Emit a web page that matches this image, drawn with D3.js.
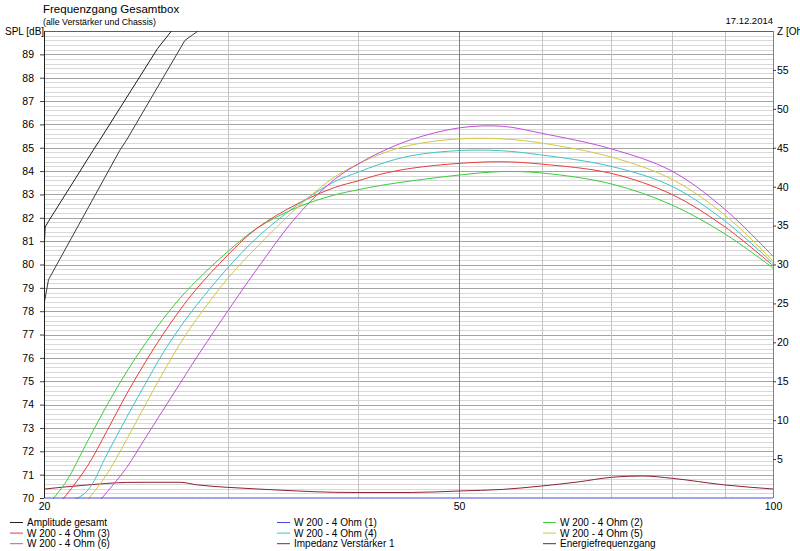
<!DOCTYPE html>
<html>
<head>
<meta charset="utf-8">
<script src="https://cdn.jsdelivr.net/npm/d3@7"></script>
<style>
  body { margin: 0; background: #fff; }
  svg { display: block; font-family: "Liberation Sans", Arial, sans-serif; }
</style>
</head>
<body>
<div id="chart"></div>
<script>
// frequency grid (Hz) shared by the six driver curves
var freq = [20, 21, 22, 23, 24, 25, 26, 27, 28, 30, 32, 35, 38, 40, 42, 45, 50, 55, 60, 70, 80, 90, 100];

// SPL in dB for each driver
var w200_1 = [70, 70, 70, 70, 70, 70, 70, 70, 70, 70, 70, 70, 70, 70, 70, 70, 70, 70, 70, 70, 70, 70, 70];
var w200_2 = [69.5, 70.7, 72.4, 74.0, 75.4, 76.6, 77.65, 78.55, 79.3, 80.55, 81.55, 82.45, 82.98, 83.2, 83.38, 83.58, 83.83, 83.98, 83.92, 83.45, 82.55, 81.3, 79.85];
var w200_3 = [69.0, 70.12, 71.35, 72.9, 74.45, 75.8, 77.0, 78.05, 78.95, 80.4, 81.55, 82.6, 83.3, 83.58, 83.86, 84.12, 84.33, 84.4, 84.3, 83.9, 83.0, 81.6, 79.95];
var w200_4 = [68.7, 69.7, 70.3, 71.9, 73.45, 74.87, 76.2, 77.3, 78.25, 79.85, 81.15, 82.55, 83.55, 83.95, 84.3, 84.66, 84.88, 84.87, 84.69, 84.2, 83.35, 81.85, 80.05];
var w200_5 = [68.2, 69.0, 69.9, 71.05, 72.5, 73.97, 75.35, 76.6, 77.65, 79.4, 80.75, 82.45, 83.75, 84.3, 84.72, 85.12, 85.38, 85.38, 85.2, 84.6, 83.65, 82.1, 80.15];
var w200_6 = [67.8, 68.5, 69.3, 70.27, 71.3, 72.55, 73.75, 74.9, 76.0, 78.0, 79.8, 82.1, 83.65, 84.3, 84.8, 85.35, 85.85, 85.92, 85.62, 84.95, 84.0, 82.35, 80.35];

// summed curves (go off the top of the chart)
var ampFreq = [20, 20.05, 20.2, 22.3, 22.6, 25.7, 26.5, 28];
var ampVals = [80.5, 81.6, 81.85, 84.9, 85.3, 89.25, 90.0, 91.2];
var energyFreq = [20, 20.2, 23.65, 24.0, 27.3, 28.1, 30];
var energyVals = [78.3, 79.35, 84.9, 85.33, 89.6, 90.0, 91.0];

// amplifier impedance (Ohm, right axis)
var zFreq = [20, 22, 24, 25, 27, 28, 30, 32, 35, 38, 40, 45, 50, 55, 60, 65, 70, 75, 80, 90, 100];
var zVals = [1.15, 1.67, 2.0, 2.02, 2.02, 1.7, 1.37, 1.16, 0.9, 0.73, 0.71, 0.71, 0.9, 1.1, 1.54, 2.06, 2.66, 2.83, 2.53, 1.67, 1.16];

// tick labels
var xTicks = [20, 50, 100];
var xGrid = [30, 40, 50, 60, 70, 80, 90];
var splTicks = d3.range(70, 90);
var zTicks = [5, 10, 15, 20, 25, 30, 35, 40, 45, 50, 55];

var width = 800, height = 551;
var pLeft = 44, pRight = 773, pTop = 31, pBottom = 498;
var font = "Liberation Sans, Arial, sans-serif";

var svg = d3.select("#chart")
    .append("svg")
    .attr("width", width)
    .attr("height", height);

var x = d3.scaleLog().domain([20, 100]).range([pLeft, pRight]);
var y = d3.scaleLinear().domain([70, 90]).range([pBottom, pTop]);
var yZ = d3.scaleLinear().domain([0, 60]).range([pBottom, pTop]);

// horizontal grid: fine lines every 0.2 dB, stronger every 1 dB
var minor = d3.range(70.2, 90, 0.2).filter(d => Math.abs(d - Math.round(d)) > 0.05);
svg.append("g").selectAll("line")
    .data(minor)
    .enter().append("line")
    .attr("x1", pLeft).attr("x2", pRight)
    .attr("y1", d => Math.round(y(d)) + 0.5)
    .attr("y2", d => Math.round(y(d)) + 0.5)
    .attr("stroke", "#d8d8d8");

svg.append("g").selectAll("line")
    .data(d3.range(71, 90))
    .enter().append("line")
    .attr("x1", pLeft).attr("x2", pRight)
    .attr("y1", d => Math.round(y(d)) + 0.5)
    .attr("y2", d => Math.round(y(d)) + 0.5)
    .attr("stroke", "#a4a4a4");

// vertical grid
svg.append("g").selectAll("line")
    .data(xGrid)
    .enter().append("line")
    .attr("x1", d => Math.round(x(d)) + 0.5)
    .attr("x2", d => Math.round(x(d)) + 0.5)
    .attr("y1", pTop).attr("y2", pBottom)
    .attr("stroke", d => d === 50 ? "#808080" : "#c4c4c4");

// frame
svg.append("line")
    .attr("x1", pLeft).attr("x2", pRight)
    .attr("y1", pTop + 0.5).attr("y2", pTop + 0.5)
    .attr("stroke", "#606060");

// clip for the curves
svg.append("clipPath")
    .attr("id", "plot-clip")
    .append("rect")
    .attr("x", pLeft).attr("y", pTop)
    .attr("width", pRight - pLeft).attr("height", pBottom - pTop + 1);

var plot = svg.append("g").attr("clip-path", "url(#plot-clip)");

var splLine = d3.line()
    .x(d => x(d[0]))
    .y(d => y(d[1]))
    .curve(d3.curveCatmullRom.alpha(0.5));

var rawLine = d3.line()
    .x(d => x(d[0]))
    .y(d => y(d[1]));

var zLine = d3.line()
    .x(d => x(d[0]))
    .y(d => yZ(d[1]))
    .curve(d3.curveMonotoneX);

function pairs(fs, vs) {
    return fs.map((f, i) => [f, vs[i]]);
}

var series = [
    {name: "Amplitude gesamt", color: "#1e1e1e", data: pairs(ampFreq, ampVals), gen: rawLine},
    {name: "W 200 - 4 Ohm (1)", color: "#4646dc", data: pairs(freq, w200_1), gen: splLine},
    {name: "W 200 - 4 Ohm (2)", color: "#3ccc3c", data: pairs(freq, w200_2), gen: splLine},
    {name: "W 200 - 4 Ohm (3)", color: "#ea3a3a", data: pairs(freq, w200_3), gen: splLine},
    {name: "W 200 - 4 Ohm (4)", color: "#3cc4c4", data: pairs(freq, w200_4), gen: splLine},
    {name: "W 200 - 4 Ohm (5)", color: "#d2c83e", data: pairs(freq, w200_5), gen: splLine},
    {name: "W 200 - 4 Ohm (6)", color: "#c24ed8", data: pairs(freq, w200_6), gen: splLine},
    {name: "Impedanz Verstärker 1", color: "#8e2232", data: pairs(zFreq, zVals), gen: zLine},
    {name: "Energiefrequenzgang", color: "#3c3c3c", data: pairs(energyFreq, energyVals), gen: rawLine}
];

// draw curves (blue one last so it sits on the bottom edge)
var drawOrder = [7, 2, 3, 4, 5, 6, 0, 8, 1];
drawOrder.forEach(function(i) {
    var s = series[i];
    plot.append("path")
        .attr("d", s.gen(s.data))
        .attr("fill", "none")
        .attr("stroke", s.color)
        .attr("stroke-width", 1);
});

// left axis
var axisL = svg.append("g")
    .attr("transform", `translate(${pLeft},0)`)
    .call(d3.axisLeft(y).tickValues(splTicks).tickSize(4).tickPadding(6).tickFormat(d3.format("d")));

// right axis
var axisR = svg.append("g")
    .attr("transform", `translate(${pRight},0)`)
    .call(d3.axisRight(yZ).tickValues(zTicks).tickSize(3).tickPadding(1).tickFormat(d3.format("d")));

// bottom labels
var axisB = svg.append("g")
    .attr("transform", `translate(0,${pBottom})`)
    .call(d3.axisBottom(x).tickValues(xTicks).tickSize(0).tickPadding(5).tickFormat(d3.format("d")));

[axisL, axisR, axisB].forEach(function(a) {
    a.selectAll("text").attr("font-size", 10.5).attr("font-family", font).attr("fill", "#000");
    a.selectAll(".tick line").attr("stroke", "#404040");
});
axisL.select(".domain").attr("stroke", "#202020").attr("d", `M0.5,${pTop}V${pBottom}`);
axisR.select(".domain").attr("stroke", "#808080").attr("d", `M0.5,${pTop}V${pBottom}`);
axisB.select(".domain").remove();

// titles
svg.append("text")
    .attr("x", 43).attr("y", 13)
    .attr("font-size", 11.5)
    .text("Frequenzgang Gesamtbox");

svg.append("text")
    .attr("x", 43).attr("y", 25)
    .attr("font-size", 8.8)
    .text("(alle Verstärker und Chassis)");

svg.append("text")
    .attr("x", 773).attr("y", 24)
    .attr("text-anchor", "end")
    .attr("font-size", 9.5)
    .text("17.12.2014");

svg.append("text")
    .attr("x", 5).attr("y", 35)
    .attr("font-size", 10)
    .text("SPL [dB]");

// right axis title, cut by the window edge as in the original
svg.append("text")
    .attr("x", 777).attr("y", 35)
    .attr("font-size", 10)
    .text("Z [Ohm]");

// legend, three columns
var colX = [10, 277, 543];
var legend = svg.append("g").selectAll("g")
    .data(series)
    .enter().append("g")
    .attr("transform", (d, i) => `translate(${colX[i % 3]},${522 + Math.floor(i / 3) * 10.6})`);

legend.append("line")
    .attr("x1", 0).attr("x2", 13)
    .attr("y1", 0.5).attr("y2", 0.5)
    .attr("stroke", d => d.color);

legend.append("text")
    .attr("x", 17).attr("y", 4)
    .attr("font-size", 10)
    .text(d => d.name);
</script>
</body>
</html>
